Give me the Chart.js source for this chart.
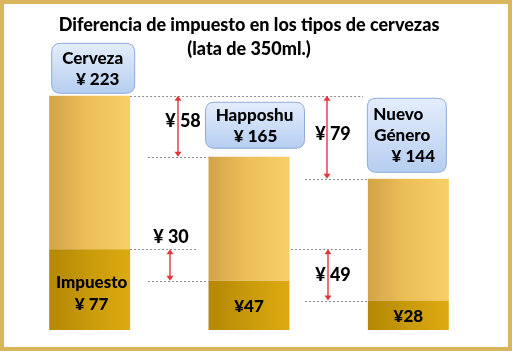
<!DOCTYPE html>
<html>
<head>
<meta charset="utf-8">
<script src="https://cdn.jsdelivr.net/npm/chart.js@4.4.1/dist/chart.umd.min.js"></script>
<style>
html,body{margin:0;padding:0;background:#fff;}
#wrap{width:512px;height:351px;position:relative;}
canvas{display:block;}
</style>
</head>
<body>
<div id="wrap"><canvas id="c" width="512" height="351"></canvas></div>
<script>
// ---- data ----
const categories = ["Cerveza", "Happoshu", "Nuevo Género"];
const totalPrice = [223, 165, 144];
const taxAmount = [77, 47, 28];
const restAmount = totalPrice.map((t, i) => t - taxAmount[i]);
const titleLines = ["Diferencia de impuesto en los tipos de cervezas", "(lata de 350ml.)"];
const boxLines = [["Cerveza", "¥ 223"], ["Happoshu", "¥ 165"], ["Nuevo", "Género", "¥ 144"]];
const taxLabels = [["Impuesto", "¥ 77"], ["¥47"], ["¥28"]];
const yMax = 240;

const FONT = "Lato, 'Liberation Sans', sans-serif";
const W = '900';
const BAR_PCT = 0.508;

function barGeom(chart, i) {
  const xs = chart.scales.x, area = chart.chartArea;
  const cw = area.width / categories.length;
  const cx = xs.getPixelForValue(i);
  const hw = cw * BAR_PCT / 2;
  return { cx, l: cx - hw, r: cx + hw };
}

function makeGrad(ctx, light) {
  const chart = ctx.chart;
  if (!chart.chartArea) return light ? '#EDBE55' : '#C9980C';
  const g = barGeom(chart, ctx.dataIndex);
  const gr = chart.ctx.createLinearGradient(g.l, 0, g.r, 0);
  if (light) {
    gr.addColorStop(0, '#D2A449');
    gr.addColorStop(0.45, '#EBBE58');
    gr.addColorStop(1, '#F8CF66');
  } else {
    gr.addColorStop(0, '#B48706');
    gr.addColorStop(0.5, '#C99A0A');
    gr.addColorStop(1, '#DDAA12');
  }
  return gr;
}

const frame = {
  id: 'frame',
  beforeDraw(chart) {
    const c = chart.ctx;
    c.save();
    c.fillStyle = '#fff';
    c.fillRect(0, 0, chart.width, chart.height);
    c.strokeStyle = '#D9B65E';
    c.lineWidth = 4;
    c.strokeRect(2, 2, chart.width - 4, chart.height - 4);
    c.restore();
  }
};

function roundRect(c, x, y, w, h, r) {
  c.beginPath();
  c.moveTo(x + r, y);
  c.lineTo(x + w - r, y);
  c.quadraticCurveTo(x + w, y, x + w, y + r);
  c.lineTo(x + w, y + h - r);
  c.quadraticCurveTo(x + w, y + h, x + w - r, y + h);
  c.lineTo(x + r, y + h);
  c.quadraticCurveTo(x, y + h, x, y + h - r);
  c.lineTo(x, y + r);
  c.quadraticCurveTo(x, y, x + r, y);
  c.closePath();
}

function dotted(c, x1, x2, y) {
  c.save();
  c.strokeStyle = '#8C8C8C';
  c.lineWidth = 1;
  c.setLineDash([2, 2]);
  c.beginPath();
  c.moveTo(x1, Math.round(y) + 0.5);
  c.lineTo(x2, Math.round(y) + 0.5);
  c.stroke();
  c.restore();
}

function arrow(c, x, y1, y2) {
  c.save();
  c.strokeStyle = '#E5343A';
  c.fillStyle = '#E5343A';
  c.lineWidth = 1.4;
  const a = 5, w = 3.5;
  c.beginPath();
  c.moveTo(x, y1 + 2);
  c.lineTo(x, y2 - 2);
  c.stroke();
  c.beginPath();
  c.moveTo(x, y1); c.lineTo(x - w, y1 + a); c.lineTo(x + w, y1 + a); c.closePath(); c.fill();
  c.beginPath();
  c.moveTo(x, y2); c.lineTo(x - w, y2 - a); c.lineTo(x + w, y2 - a); c.closePath(); c.fill();
  c.restore();
}

const annot = {
  id: 'annot',
  afterDatasetsDraw(chart) {
    const c = chart.ctx, ys = chart.scales.y;
    const g = categories.map((_, i) => barGeom(chart, i));
    const yT = totalPrice.map(v => ys.getPixelForValue(v));
    const yX = taxAmount.map(v => ys.getPixelForValue(v));

    // dotted guide lines
    dotted(c, g[0].r, 363, yT[0]);
    dotted(c, 148, g[1].l, yT[1]);
    dotted(c, 305, g[2].l, yT[2]);
    dotted(c, g[0].r, 198, yX[0]);
    dotted(c, 291, 363, yX[0]);
    dotted(c, 148, g[1].l, yX[1]);
    dotted(c, 305, g[2].l, yX[2]);

    // arrows
    const ax = [178, 327, 170, 328];
    arrow(c, ax[0], yT[0], yT[1]);
    arrow(c, ax[1], yT[0], yT[2]);
    arrow(c, ax[2], yX[0], yX[1]);
    arrow(c, ax[3], yX[0], yX[2]);

    // difference labels
    c.save();
    c.fillStyle = '#000';
    c.font = W + ' 18px ' + FONT;
    c.textAlign = 'center';
    c.textBaseline = 'middle';
    c.fillText('¥ ' + (totalPrice[0] - totalPrice[1]), ax[0] + 5, (yT[0] + yT[1]) / 2 - 5);
    c.fillText('¥ ' + (totalPrice[0] - totalPrice[2]), ax[1] + 6, (yT[0] + yT[2]) / 2 - 3);
    c.fillText('¥ ' + (taxAmount[0] - taxAmount[1]), ax[2] + 1, yX[0] - 12);
    c.fillText('¥ ' + (taxAmount[0] - taxAmount[2]), ax[3] + 5, (yX[0] + yX[2]) / 2);
    c.restore();

    // name boxes
    const boxes = [
      { dx: 3, w: 83, h: 50, gap: 3, lx: [0, 5] },
      { dx: 5.5, w: 99, h: 46, gap: 9, lx: [0, 1] },
      { dx: -2, w: 79, h: 74, gap: 7, lx: [-8, -4, 7] }
    ];
    boxes.forEach((b, i) => {
      const cx = g[i].cx + b.dx;
      const x = cx - b.w / 2;
      const y = yT[i] - b.gap - b.h;
      c.save();
      const gr = c.createLinearGradient(0, y, 0, y + b.h);
      gr.addColorStop(0, '#E4EEFC');
      gr.addColorStop(1, '#B6CEF1');
      roundRect(c, x + 0.5, y + 0.5, b.w, b.h, 9);
      c.fillStyle = gr;
      c.fill();
      c.strokeStyle = '#8EABD8';
      c.lineWidth = 1;
      c.stroke();
      c.fillStyle = '#000';
      c.font = W + ' 17px ' + FONT;
      c.textAlign = 'center';
      c.textBaseline = 'middle';
      const lines = boxLines[i];
      const lh = 21;
      const y0 = y + b.h / 2 - (lines.length - 1) * lh / 2 + 1;
      lines.forEach((t, k) => c.fillText(t, cx + b.lx[k], y0 + k * lh));
      c.restore();
    });

    // tax labels inside bars
    c.save();
    c.fillStyle = '#000';
    c.font = W + ' 17px ' + FONT;
    c.textAlign = 'center';
    c.textBaseline = 'middle';
    taxLabels.forEach((lines, i) => {
      const mid = (yX[i] + ys.getPixelForValue(0)) / 2;
      const lh = 22;
      const y0 = mid - (lines.length - 1) * lh / 2 + (lines.length > 1 ? 4 : 1);
      lines.forEach((t, k) => c.fillText(t, g[i].cx + (i === 0 ? 2 : 0), y0 + k * lh));
    });
    c.restore();
  }
};

new Chart(document.getElementById('c'), {
  type: 'bar',
  data: {
    labels: categories,
    datasets: [
      { label: 'Impuesto', data: taxAmount, backgroundColor: ctx => makeGrad(ctx, false), borderWidth: 0 },
      { label: 'Precio sin impuesto', data: restAmount, backgroundColor: ctx => makeGrad(ctx, true), borderWidth: 0 }
    ]
  },
  options: {
    responsive: false,
    animation: false,
    devicePixelRatio: 1,
    layout: { padding: { left: 10, right: 24, bottom: 21, top: 0 } },
    datasets: { bar: { categoryPercentage: 1, barPercentage: BAR_PCT } },
    scales: {
      x: { stacked: true, display: false },
      y: { stacked: true, display: false, min: 0, max: yMax }
    },
    plugins: {
      legend: { display: false },
      tooltip: { enabled: false },
      title: {
        display: true,
        text: titleLines,
        color: '#000',
        font: { family: FONT, size: 18, weight: W, lineHeight: 1.333 },
        padding: { top: 13, bottom: 17 }
      }
    }
  },
  plugins: [frame, annot]
});
</script>
</body>
</html>
